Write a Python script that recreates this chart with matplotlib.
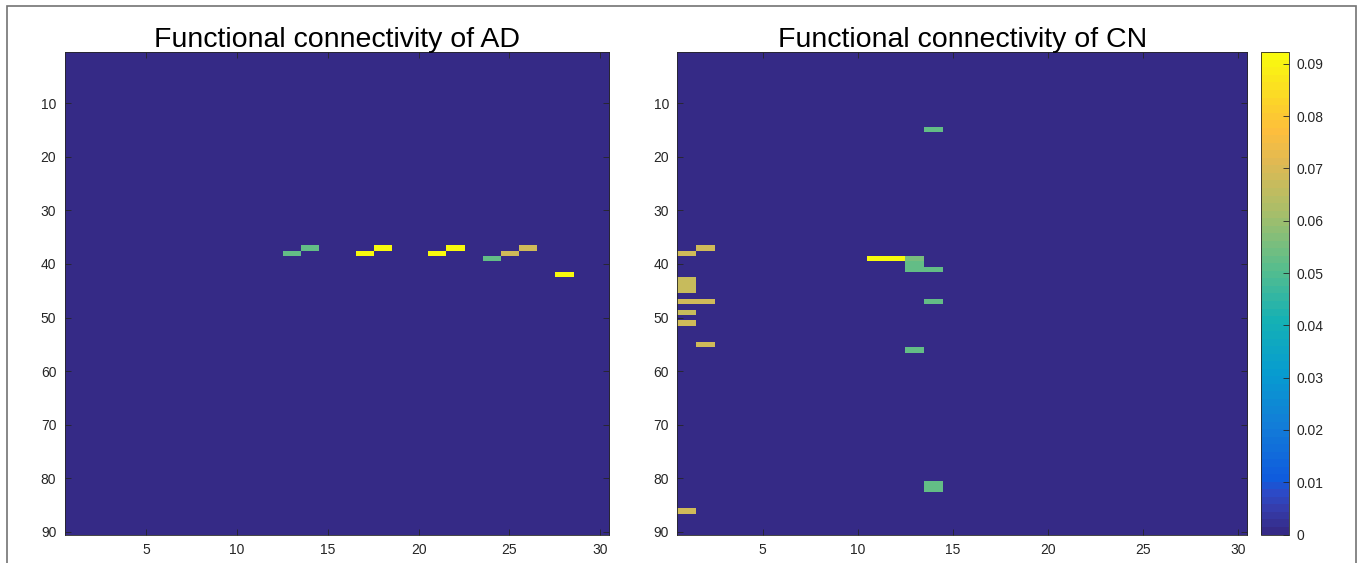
import numpy as np
import matplotlib
matplotlib.use("Agg")
import matplotlib.pyplot as plt
from matplotlib.colors import LinearSegmentedColormap
from matplotlib.patches import Rectangle

plt.rcParams['font.family'] = ['Liberation Sans', 'DejaVu Sans']

n_rows, n_cols = 90, 30
vmax = 0.0922

# AD non-zero entries (1-based row / column, value)
ad_rows = [37, 38, 38, 37, 38, 37, 39, 38, 37, 42]
ad_cols = [14, 13, 17, 18, 21, 22, 24, 25, 26, 28]
ad_vals = [0.053, 0.053, 0.0922, 0.0922, 0.0922, 0.0922, 0.053, 0.069, 0.069, 0.0922]

# CN non-zero entries
cn_rows = [37, 38, 43, 44, 45, 47, 47, 49, 51, 55, 86,
           15, 39, 39, 39, 40, 41, 41, 47, 56, 81, 82]
cn_cols = [2, 1, 1, 1, 1, 1, 2, 1, 1, 2, 1,
           14, 11, 12, 13, 13, 13, 14, 14, 13, 14, 14]
cn_vals = [0.069, 0.069, 0.067, 0.067, 0.067, 0.069, 0.069, 0.067, 0.068, 0.069, 0.069,
           0.053, 0.0922, 0.0922, 0.055, 0.053, 0.053, 0.053, 0.053, 0.053, 0.053, 0.053]

titles = ["Functional connectivity of AD", "Functional connectivity of CN"]
x_ticks = [5, 10, 15, 20, 25, 30]
y_ticks = [10, 20, 30, 40, 50, 60, 70, 80, 90]
cbar_ticks = [0, 0.01, 0.02, 0.03, 0.04, 0.05, 0.06, 0.07, 0.08, 0.09]

# parula-like colormap, 64 steps like MATLAB's default
parula_pts = [
    (0.2081, 0.1663, 0.5292), (0.2081, 0.2386, 0.6771), (0.1707, 0.2919, 0.7792),
    (0.0591, 0.3598, 0.8683), (0.0723, 0.4887, 0.8467), (0.0265, 0.6137, 0.8135),
    (0.0843, 0.6928, 0.7062), (0.3482, 0.7424, 0.5473), (0.6473, 0.7456, 0.4188),
    (0.8824, 0.7274, 0.3217), (0.9938, 0.7455, 0.2403), (0.9880, 0.8066, 0.1794),
    (0.9763, 0.9831, 0.0538)]
pos = [0, 3, 5, 7, 14, 21, 28, 35, 42, 49, 53, 56, 63]
parula = LinearSegmentedColormap.from_list(
    "parula", [(p / 63, c) for p, c in zip(pos, parula_pts)], N=64)


def build(rows, cols, vals):
    m = np.zeros((n_rows, n_cols))
    for r, c, v in zip(rows, cols, vals):
        m[r - 1, c - 1] = v
    return m


ad = build(ad_rows, ad_cols, ad_vals)
cn = build(cn_rows, cn_cols, cn_vals)

fig = plt.figure(figsize=(13.6, 5.63), dpi=100)
ax1 = fig.add_axes([0.0475, 0.0505, 0.4005, 0.8565])
ax2 = fig.add_axes([0.498, 0.0505, 0.4192, 0.8565])
cax = fig.add_axes([0.9272, 0.0505, 0.0208, 0.8565])

edge = (0.15, 0.15, 0.15)
for ax, mat, title in [(ax1, ad, titles[0]), (ax2, cn, titles[1])]:
    im = ax.imshow(mat, cmap=parula, vmin=0, vmax=vmax, aspect='auto',
                   interpolation='nearest',
                   extent=[0.5, n_cols + 0.5, n_rows + 0.5, 0.5])
    ax.set_xticks(x_ticks)
    ax.set_yticks(y_ticks)
    ax.tick_params(direction='in', length=4, width=0.6, color=edge,
                   labelcolor=edge, labelsize=10, top=True, right=True,
                   pad=6)
    for s in ax.spines.values():
        s.set_color(edge)
        s.set_linewidth(0.6)
    ax.set_title(title, fontsize=20.5, pad=4, color='black')

cb = fig.colorbar(im, cax=cax, ticks=cbar_ticks)
cb.ax.set_yticklabels(["0", "0.01", "0.02", "0.03", "0.04", "0.05",
                       "0.06", "0.07", "0.08", "0.09"])
cb.ax.tick_params(direction='in', length=4, width=0.6, color=edge,
                  labelcolor=edge, labelsize=10, pad=5)
cb.outline.set_edgecolor(edge)
cb.outline.set_linewidth(0.6)

# thin frame around the whole figure
fig.patches.append(Rectangle((7 / 1360, -0.02), 1349 / 1360, 1 - 6 / 563 + 0.02,
                             transform=fig.transFigure, fill=False,
                             edgecolor=(0.45, 0.45, 0.45), linewidth=1.2))

fig.savefig("out.png", dpi=100)
